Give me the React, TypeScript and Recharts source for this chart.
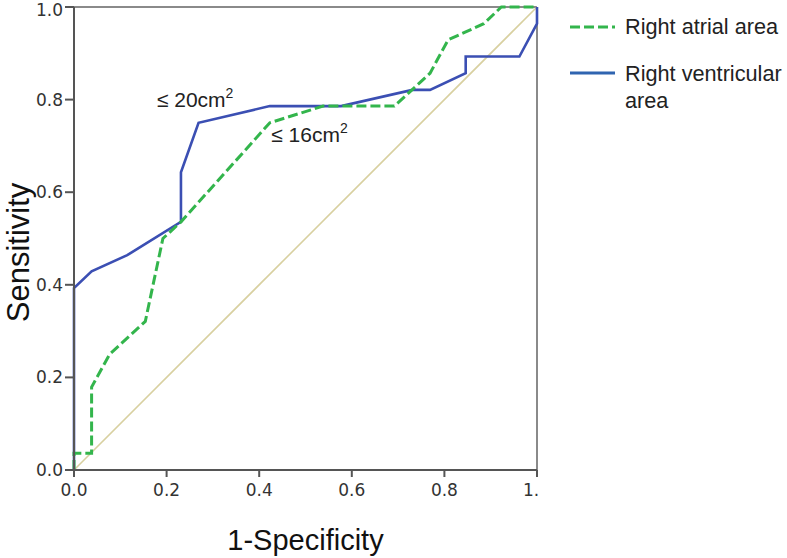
import React from 'react';
import { LineChart, Line, XAxis, YAxis, ReferenceLine, ReferenceDot } from 'recharts';

// ROC curve points (x = 1-specificity, y = sensitivity)
const rvX = [0, 0, 0.038, 0.115, 0.231, 0.231, 0.269, 0.423, 0.577, 0.731, 0.769, 0.846, 0.846, 0.962, 1, 1];
const rvY = [0, 0.393, 0.429, 0.464, 0.536, 0.643, 0.75, 0.786, 0.786, 0.821, 0.821, 0.857, 0.893, 0.893, 0.964, 1];

const raX = [0, 0, 0.038, 0.038, 0.077, 0.154, 0.192, 0.231, 0.423, 0.538, 0.692, 0.769, 0.808, 0.885, 0.923, 1];
const raY = [0, 0.036, 0.036, 0.179, 0.25, 0.321, 0.5, 0.536, 0.75, 0.786, 0.786, 0.857, 0.929, 0.964, 1, 1];

const refX = [0, 1];
const refY = [0, 1];

const ticks = [0, 0.2, 0.4, 0.6, 0.8, 1];
const xTickLabels = ['0.0', '0.2', '0.4', '0.6', '0.8', '1.'];

const BLUE = '#3b4fb3';
const GREEN = '#33b54c';
const DIAG = '#d8d0a0';
const SANS = 'Liberation Sans, Arial';

const zip = (xs: number[], ys: number[]) => xs.map((x, i) => ({ x, y: ys[i] }));
const rvData = zip(rvX, rvY);
const raData = zip(raX, raY);
const refData = zip(refX, refY);

const tickFont = { fontFamily: 'DejaVu Sans', fontSize: 17, fill: '#333' };

function XTick(props: any) {
  const { x, y, payload } = props;
  const i = ticks.indexOf(payload.value);
  const label = xTickLabels[i] ?? payload.value;
  const last = i === ticks.length - 1;
  return (
    <text x={last ? x - 14 : x} y={y} dy={14} textAnchor={last ? 'start' : 'middle'} {...tickFont}>
      {label}
    </text>
  );
}

function Annot(text: string) {
  return (p: any) => (
    <text x={p.cx} y={p.cy} fontFamily={SANS} fontSize={21} fill="#222">
      {text}
      <tspan dy={-9} fontSize={14}>2</tspan>
    </text>
  );
}

function YTitle(props: any) {
  const vb = props.viewBox;
  const cx = 29;
  const cy = vb.y + vb.height / 2 + 14;
  return (
    <text x={cx} y={cy} transform={`rotate(-90, ${cx}, ${cy})`} textAnchor="middle" fontFamily={SANS} fontSize={31} fill="#111">
      Sensitivity
    </text>
  );
}

function LegendBox() {
  const font = { fontFamily: SANS, fontSize: 21.7, fill: '#222' };
  return (
    <svg width={227} height={120} style={{ position: 'absolute', left: 560, top: 10 }}>
      <line x1={10} x2={55} y1={17} y2={17} stroke={GREEN} strokeWidth={3} strokeDasharray="10 4" />
      <text x={65} y={24} {...font}>Right atrial area</text>
      <line x1={10} x2={55} y1={63} y2={63} stroke="#2f64b0" strokeWidth={3} />
      <text x={65} y={71} {...font}>Right ventricular</text>
      <text x={65} y={98} {...font}>area</text>
    </svg>
  );
}

export default function App() {
  return (
    <div style={{ position: 'absolute', left: 0, top: 0, width: 787, height: 558, background: '#fff' }}>
      <LineChart width={787} height={558} margin={{ top: 7, right: 250, bottom: 0, left: 0 }}>
        <XAxis
          type="number"
          dataKey="x"
          domain={[0, 1]}
          ticks={ticks}
          tick={<XTick />}
          tickSize={7}
          tickMargin={5}
          height={88}
          stroke="#555"
          strokeWidth={2}
          allowDuplicatedCategory={false}
          label={{ value: '1-Specificity', position: 'insideBottom', offset: 8, style: { fontFamily: SANS, fontSize: 29, fill: '#111' } }}
        />
        <YAxis
          type="number"
          dataKey="y"
          domain={[0, 1]}
          ticks={ticks}
          tickFormatter={(v: number) => v.toFixed(1)}
          tick={tickFont}
          tickSize={9}
          tickMargin={2}
          width={74}
          stroke="#555"
          strokeWidth={2}
          label={{ content: <YTitle /> }}
        />
        <ReferenceLine y={1} stroke="#8a8a8a" strokeWidth={2} />
        <ReferenceLine x={1} stroke="#8a8a8a" strokeWidth={2} />
        <Line data={refData} dataKey="y" stroke={DIAG} strokeWidth={1.6} dot={false} isAnimationActive={false} />
        <Line data={rvData} dataKey="y" name="Right ventricular area" stroke={BLUE} strokeWidth={2.6} dot={false} isAnimationActive={false} />
        <Line data={raData} dataKey="y" name="Right atrial area" stroke={GREEN} strokeWidth={3} strokeDasharray="10 4" dot={false} isAnimationActive={false} />
        <ReferenceDot x={0.179} y={0.785} r={0} shape={Annot('≤ 20cm')} />
        <ReferenceDot x={0.426} y={0.709} r={0} shape={Annot('≤ 16cm')} />
      </LineChart>
      <LegendBox />
    </div>
  );
}
